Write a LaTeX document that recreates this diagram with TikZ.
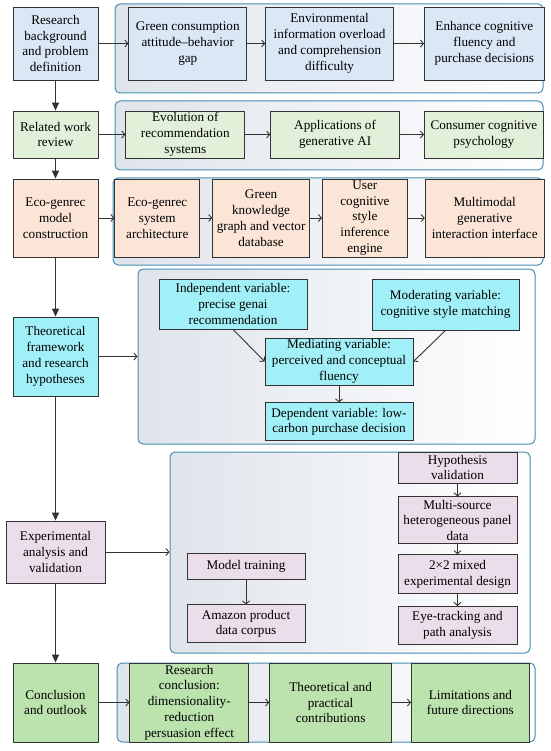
\documentclass[tikz,border=0pt]{standalone}
\usepackage{fontspec}
\setmainfont{Liberation Serif}
\usetikzlibrary{arrows.meta, positioning}
\definecolor{edgegray}{HTML}{333333}
\definecolor{panelblue}{HTML}{448fb3}
\definecolor{panelfill}{HTML}{dfe4eb}
\definecolor{stageblue}{HTML}{dae8f5}
\definecolor{stagegreen}{HTML}{e2f0d9}
\definecolor{stageorange}{HTML}{fbe5d6}
\definecolor{stagecyan}{HTML}{a2f0f7}
\definecolor{stagepink}{HTML}{ebdde9}
\definecolor{stagelime}{HTML}{bce2ad}

\begin{document}
\begin{tikzpicture}[
    x=1pt, y=-1pt,
    font=\fontsize{13.2}{15.8}\selectfont,
    cellbox/.style={draw=edgegray, line width=0.8pt, align=center, inner sep=1pt},
    stagebox/.style={cellbox, minimum width=85pt},
    panel/.style={draw=panelblue, rounded corners=5pt, line width=1pt, left color=panelfill,
                  right color=white, inner sep=0pt},
    flow/.style={-{Triangle[length=8pt,width=7pt]}, line width=1.2pt, edgegray},
    link/.style={-{Straight Barb[length=3pt,width=7pt]}, line width=0.9pt, edgegray}
]
    \useasboundingbox (0,0) rectangle (550,751);

    % panels behind the rows
    \node[panel, minimum width=428pt, minimum height=89pt] (p1) at (329,48.5) {};
    \node[panel, minimum width=428pt, minimum height=69pt] (p2) at (329,135.5) {};
    \node[panel, minimum width=430pt, minimum height=87pt] (p3) at (328,221.5) {};
    \node[panel, minimum width=397pt, minimum height=175pt] (p4) at (336.5,356.5) {};
    \node[panel, minimum width=360pt, minimum height=201pt] (p5) at (350,552.5) {};
    \node[panel, minimum width=418pt, minimum height=79pt] (p6) at (326,702.5) {};

    % main stages
    \node[stagebox, fill=stageblue, minimum height=73pt] (background) at (55.5,43.5) {Research\\background\\and problem\\definition};
    \node[stagebox, fill=stagegreen, minimum height=47pt] (related) at (55.5,134.5) {Related work\\review};
    \node[stagebox, fill=stageorange, minimum height=78pt] (model) at (55.5,218) {Eco-genrec\\model\\construction};
    \node[stagebox, fill=stagecyan, minimum height=79pt] (theory) at (55.5,356.5) {Theoretical\\framework\\and research\\hypotheses};
    \node[stagebox, fill=stagepink, minimum width=99pt, minimum height=62pt] (experiment) at (55.5,552) {Experimental\\analysis and\\validation};
    \node[stagebox, fill=stagelime, minimum height=79pt] (conclusion) at (55.5,702.5) {Conclusion\\and outlook};

    % row 1
    \node[cellbox, fill=stageblue, minimum width=118pt, minimum height=73pt, right=30pt of background] (gap) {Green consumption\\attitude–behavior\\gap};
    \node[cellbox, fill=stageblue, minimum width=128pt, minimum height=73pt, right=18pt of gap] (overload) {Environmental\\information overload\\and comprehension\\difficulty};
    \node[cellbox, fill=stageblue, minimum width=120pt, minimum height=73pt, right=30pt of overload] (fluency) {Enhance cognitive\\fluency and\\purchase decisions};

    % row 2
    \node[cellbox, fill=stagegreen, minimum width=119pt, minimum height=47pt, right=27pt of related] (recsys) {Evolution of\\recommendation\\systems};
    \node[cellbox, fill=stagegreen, minimum width=129pt, minimum height=47pt, right=25pt of recsys] (genai) {Applications of\\generative AI};
    \node[cellbox, fill=stagegreen, minimum width=119pt, minimum height=47pt, right=24pt of genai] (psych) {Consumer cognitive\\psychology};

    % row 3
    \node[cellbox, fill=stageorange, minimum width=85pt, minimum height=78pt, right=16pt of model] (arch) {Eco-genrec\\system\\architecture};
    \node[cellbox, fill=stageorange, minimum width=97pt, minimum height=78pt, right=12pt of arch] (graph) {Green\\knowledge\\graph and vector\\database};
    \node[cellbox, fill=stageorange, minimum width=85pt, minimum height=78pt, right=12pt of graph] (engine) {User\\cognitive\\style\\inference\\engine};
    \node[cellbox, fill=stageorange, minimum width=119pt, minimum height=78pt, right=17pt of engine] (iface) {Multimodal\\generative\\interaction interface};

    % row 4: variables
    \node[cellbox, fill=stagecyan, minimum width=148pt, minimum height=50pt] (indep) at (233,304) {Independent variable:\\precise genai\\recommendation};
    \node[cellbox, fill=stagecyan, minimum width=147pt, minimum height=51pt] (moder) at (445.5,304.5) {Moderating variable:\\cognitive style matching};
    \node[cellbox, fill=stagecyan, minimum width=148pt, minimum height=47pt] (medi) at (339,361.5) {Mediating variable:\\perceived and conceptual\\fluency};
    \node[cellbox, fill=stagecyan, minimum width=148pt, minimum height=38pt, below=17pt of medi] (dep) {Dependent variable: low-\\carbon purchase decision};

    % row 5: experiments
    \node[cellbox, fill=stagepink, minimum width=119pt, minimum height=31pt] (hypo) at (457.5,467.5) {Hypothesis\\validation};
    \node[cellbox, fill=stagepink, minimum width=119pt, minimum height=47pt, below=13pt of hypo] (panel) {Multi-source\\heterogeneous panel\\data};
    \node[cellbox, fill=stagepink, minimum width=119pt, minimum height=39pt, below=10pt of panel] (design) {2×2 mixed\\experimental design};
    \node[cellbox, fill=stagepink, minimum width=119pt, minimum height=38pt, below=12pt of design] (eye) {Eye-tracking and\\path analysis};
    \node[cellbox, fill=stagepink, minimum width=118pt, minimum height=26pt] (train) at (246,566) {Model training};
    \node[cellbox, fill=stagepink, minimum width=118pt, minimum height=38pt, below=25pt of train] (corpus) {Amazon product\\data corpus};

    % row 6
    \node[cellbox, fill=stagelime, minimum width=119pt, minimum height=79pt, right=31pt of conclusion] (finding) {Research\\conclusion:\\dimensionality-\\reduction\\persuasion effect};
    \node[cellbox, fill=stagelime, minimum width=122pt, minimum height=79pt, right=20pt of finding] (contrib) {Theoretical and\\practical\\contributions};
    \node[cellbox, fill=stagelime, minimum width=118pt, minimum height=79pt, right=19pt of contrib] (limits) {Limitations and\\future directions};

    % main flow
    \draw[flow] (background) -- (related);
    \draw[flow] (related) -- (model);
    \draw[flow] (model) -- (theory);
    \draw[flow] (theory) -- (experiment);
    \draw[flow] (experiment) -- (conclusion);

    % links
    \draw[link] (background) -- (gap);
    \draw[link] (gap) -- (overload);
    \draw[link] (overload) -- (fluency);
    \draw[link] (related) -- (recsys);
    \draw[link] (recsys) -- (genai);
    \draw[link] (genai) -- (psych);
    \draw[link] (model) -- (arch);
    \draw[link] (arch) -- (graph);
    \draw[link] (graph) -- (engine);
    \draw[link] (engine) -- (iface);
    \draw[link] (theory.east) -- (theory.east -| p4.west);
    \draw[link] (indep.south) -- (medi.west);
    \draw[link] (moder.south) -- (medi.east);
    \draw[link] (medi) -- (dep);
    \draw[link] (experiment.east) -- (experiment.east -| p5.west);
    \draw[link] (hypo) -- (panel);
    \draw[link] (panel) -- (design);
    \draw[link] (design) -- (eye);
    \draw[link] (train) -- (corpus);
    \draw[link] (conclusion) -- (finding);
    \draw[link] (finding) -- (contrib);
    \draw[link] (contrib) -- (limits);
\end{tikzpicture}
\end{document}
